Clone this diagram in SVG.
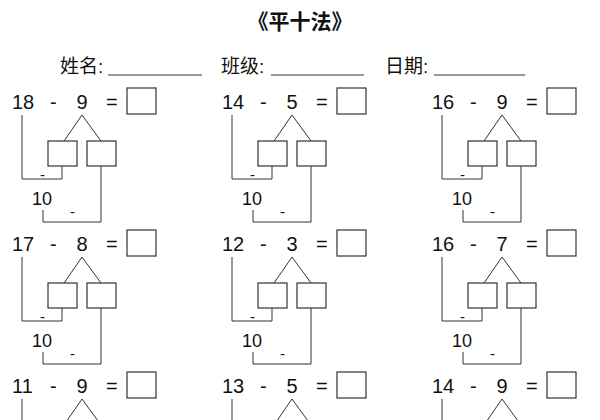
<svg xmlns="http://www.w3.org/2000/svg" xmlns:xlink="http://www.w3.org/1999/xlink" width="600" height="420" viewBox="0 0 600 420">
<style>
text{font-family:"Liberation Sans","Noto Sans CJK SC",sans-serif;fill:#111}
.n{font-size:20px}
.t{font-size:18px}
.m{font-size:15px}
.h{font-size:19px}
.s{fill:#fff;stroke:#333;stroke-width:1.2}
.l{fill:none;stroke:#333;stroke-width:1}
</style>
<defs>
<g id="frame">
<rect class="s" x="127" y="88" width="29" height="26"/>
<rect class="s" x="48" y="141" width="29" height="25"/>
<rect class="s" x="87" y="141" width="29" height="25"/>
<path class="l" d="M64 141L82 115L101 141M22 115V179H62V166M43 210V222H101V166"/>
<text class="n" x="50" y="109">-</text>
<text class="n" x="106" y="109">=</text>
<text class="m" x="40" y="180">-</text>
<text class="m" x="70" y="217">-</text>
<text class="t" x="32" y="205">10</text>
</g>
</defs>
<rect width="600" height="420" fill="#fff"/>
<g id="header">
<text x="300" y="29" text-anchor="middle" font-size="21" font-weight="bold">《平十法》</text>
<text class="h" x="60" y="73">姓名:</text>
<text class="h" x="221" y="73">班级:</text>
<text class="h" x="385" y="73">日期:</text>
<path class="l" d="M108 75H202M271 75H364M434 75H525"/>
</g>
<g id="p1" transform="translate(0,0)"><use xlink:href="#frame"/><text class="n" x="12" y="109">18</text><text class="n" x="82" y="109" text-anchor="middle">9</text></g>
<g id="p2" transform="translate(210,0)"><use xlink:href="#frame"/><text class="n" x="12" y="109">14</text><text class="n" x="82" y="109" text-anchor="middle">5</text></g>
<g id="p3" transform="translate(420,0)"><use xlink:href="#frame"/><text class="n" x="12" y="109">16</text><text class="n" x="82" y="109" text-anchor="middle">9</text></g>
<g id="p4" transform="translate(0,142)"><use xlink:href="#frame"/><text class="n" x="12" y="109">17</text><text class="n" x="82" y="109" text-anchor="middle">8</text></g>
<g id="p5" transform="translate(210,142)"><use xlink:href="#frame"/><text class="n" x="12" y="109">12</text><text class="n" x="82" y="109" text-anchor="middle">3</text></g>
<g id="p6" transform="translate(420,142)"><use xlink:href="#frame"/><text class="n" x="12" y="109">16</text><text class="n" x="82" y="109" text-anchor="middle">7</text></g>
<g id="p7" transform="translate(0,284)"><use xlink:href="#frame"/><text class="n" x="12" y="109">11</text><text class="n" x="82" y="109" text-anchor="middle">9</text></g>
<g id="p8" transform="translate(210,284)"><use xlink:href="#frame"/><text class="n" x="12" y="109">13</text><text class="n" x="82" y="109" text-anchor="middle">5</text></g>
<g id="p9" transform="translate(420,284)"><use xlink:href="#frame"/><text class="n" x="12" y="109">14</text><text class="n" x="82" y="109" text-anchor="middle">9</text></g>
</svg>
